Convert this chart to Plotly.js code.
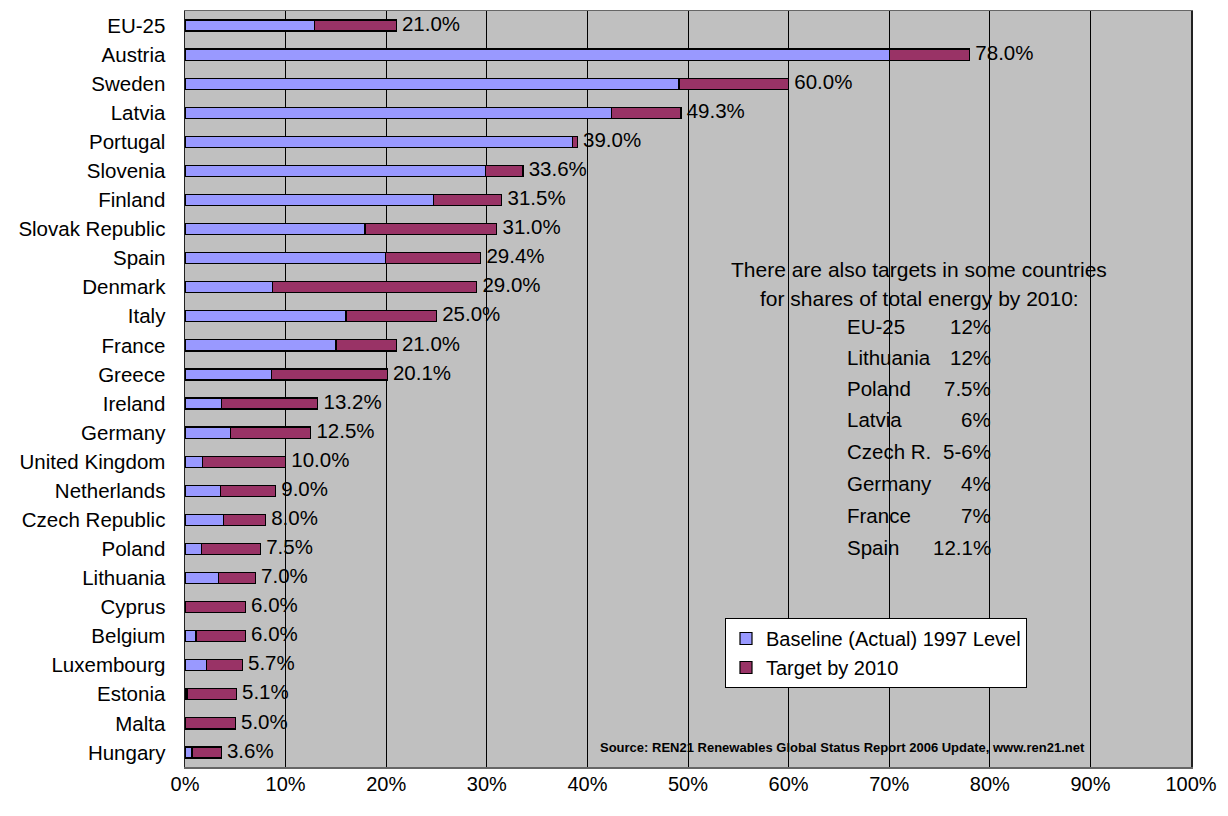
<!DOCTYPE html>
<html>
<head>
<meta charset="utf-8">
<script src="https://cdn.plot.ly/plotly-3.0.1.min.js"></script>
<style>html,body{margin:0;padding:0;background:#fff;}#chart{width:1228px;height:816px;}</style>
</head>
<body>
<div id="chart"></div>
<script>
// ---- data ----
const countries = ["EU-25","Austria","Sweden","Latvia","Portugal","Slovenia","Finland","Slovak Republic","Spain","Denmark","Italy","France","Greece","Ireland","Germany","United Kingdom","Netherlands","Czech Republic","Poland","Lithuania","Cyprus","Belgium","Luxembourg","Estonia","Malta","Hungary"];
const baseline1997 = [12.9,70.0,49.1,42.4,38.5,29.9,24.7,17.9,19.9,8.7,16.0,15.0,8.6,3.6,4.5,1.7,3.5,3.8,1.6,3.3,0.05,1.1,2.1,0.2,0.0,0.7];
const target2010 = [21.0,78.0,60.0,49.3,39.0,33.6,31.5,31.0,29.4,29.0,25.0,21.0,20.1,13.2,12.5,10.0,9.0,8.0,7.5,7.0,6.0,6.0,5.7,5.1,5.0,3.6];
const xTickVals = [0,10,20,30,40,50,60,70,80,90,100];
const xTickText = ["0%","10%","20%","30%","40%","50%","60%","70%","80%","90%","100%"];
const noteTitle = ["There are also targets in some countries","for shares of total energy by 2010:"];
const noteCountries = ["EU-25","Lithuania","Poland","Latvia","Czech R.","Germany","France","Spain"];
const noteValues = ["12%","12%","7.5%","6%","5-6%","4%","7%","12.1%"];
const sourceText = "Source: REN21 Renewables Global Status Report 2006 Update, www.ren21.net";

// ---- derived ----
const increment = target2010.map((t,i)=>Math.round((t-baseline1997[i])*100)/100);
const labels = target2010.map(t=>"&nbsp;"+t.toFixed(1)+"%");

const FONT = "Liberation Sans, Arial, sans-serif";
const W = 1228, H = 816;
const L = 185, R = 37, T = 11, B = 49;
const pw = W-L-R, ph = H-T-B;
const px = v => (v-L)/pw;
const py = v => (H-B-v)/ph;

const traces = [
  {type:"bar", orientation:"h", name:"Baseline (Actual) 1997 Level", y:countries, x:baseline1997,
   marker:{color:"#9999FF", line:{color:"#000", width:1.2}}, hoverinfo:"x+y"},
  {type:"bar", orientation:"h", name:"Target by 2010", y:countries, x:increment,
   marker:{color:"#993366", line:{color:"#000", width:1.2}}, hoverinfo:"x+y"},
  {type:"scatter", mode:"text", y:countries, x:target2010, text:labels, textposition:"middle right",
   textfont:{family:FONT, size:20.5, color:"#000"}, showlegend:false, hoverinfo:"skip", cliponaxis:false}
];

const annotations = [];
noteTitle.forEach((t,i)=>{
  annotations.push({xref:"paper", yref:"paper", x:px(919), y:py([269,298][i]), text:t, showarrow:false,
    xanchor:"center", yanchor:"middle", font:{family:FONT, size:21, color:"#000"}});
});
const rowY = [326,357,388,420,451,484,515,547];
noteCountries.forEach((c,i)=>{
  annotations.push({xref:"paper", yref:"paper", x:px(845), y:py(rowY[i]), text:c, showarrow:false,
    xanchor:"left", yanchor:"middle", font:{family:FONT, size:20.5, color:"#000"}});
  annotations.push({xref:"paper", yref:"paper", x:px(993), y:py(rowY[i]), text:noteValues[i], showarrow:false,
    xanchor:"right", yanchor:"middle", font:{family:FONT, size:20.5, color:"#000"}});
});
annotations.push({xref:"paper", yref:"paper", x:px(598), y:py(747), text:"<b>"+sourceText+"</b>", showarrow:false,
  xanchor:"left", yanchor:"middle", font:{family:FONT, size:13, color:"#000"}});

const layout = {
  width:W, height:H,
  margin:{l:L, r:R, t:T, b:B, pad:0},
  paper_bgcolor:"#ffffff", plot_bgcolor:"#C0C0C0",
  barmode:"stack", bargap:0.62,
  font:{family:FONT, size:20, color:"#000"},
  xaxis:{range:[0,100], tickvals:xTickVals, ticktext:xTickText, showgrid:true, gridcolor:"#000", gridwidth:1,
    zeroline:false, showline:true, mirror:true, linecolor:"#666", linewidth:1.5, ticks:"",
    ticklabelstandoff:-2, tickfont:{family:FONT, size:20, color:"#000"}, fixedrange:true},
  yaxis:{type:"category", categoryorder:"array", categoryarray:countries, range:[25.5,-0.5],
    showgrid:false, zeroline:false, showline:true, mirror:true, linecolor:"#222", linewidth:1.5, ticks:"",
    ticklabelstandoff:14, tickfont:{family:FONT, size:20.5, color:"#000"}, fixedrange:true},
  legend:{x:px(725), y:py(618), xanchor:"left", yanchor:"top", bgcolor:"#fff", bordercolor:"#000", borderwidth:1,
    font:{family:FONT, size:20, color:"#000"}, traceorder:"normal", tracegroupgap:0, itemwidth:30},
  showlegend:true,
  annotations:annotations
};

Plotly.newPlot("chart", traces, layout, {displayModeBar:false, staticPlot:true});
</script>
</body>
</html>
